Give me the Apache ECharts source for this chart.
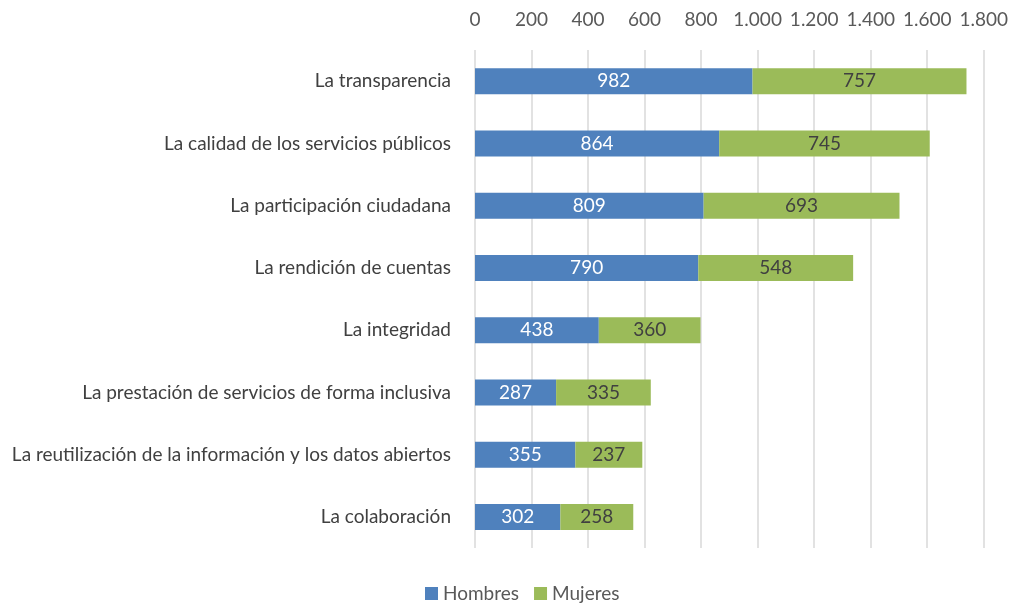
<!DOCTYPE html>
<html><head><meta charset="utf-8">
<script src="https://cdn.jsdelivr.net/npm/echarts@6/dist/echarts.min.js"></script>
<style>html,body{margin:0;padding:0;background:#fff}#c{width:1011px;height:603px}</style>
</head><body><div id="c"></div>
<script>
const categories = ["La transparencia","La calidad de los servicios públicos","La participación ciudadana","La rendición de cuentas","La integridad","La prestación de servicios de forma inclusiva","La reutilización de la información y los datos abiertos","La colaboración"];
const hombres = [982,864,809,790,438,287,355,302];
const mujeres = [757,745,693,548,360,335,237,258];
const seriesNames = ["Hombres","Mujeres"];
const FONT = "Lato";
const FS = 19;
const fmt = v => String(v).replace(/\B(?=(\d{3})+(?!\d))/g, ".");
const chart = echarts.init(document.getElementById('c'));
chart.setOption({
  animation:false,
  textStyle:{fontFamily:FONT},
  grid:{left:475,right:26,top:50,bottom:55,containLabel:false},
  legend:{bottom:-5,left:420,itemWidth:13,itemHeight:13,itemGap:15,itemTextGap:5,icon:'rect',
    textStyle:{fontFamily:FONT,fontSize:FS,color:'#595959'},data:seriesNames},
  xAxis:{type:'value',position:'top',min:0,max:1800,interval:200,
    axisLine:{show:false},axisTick:{show:false},
    splitLine:{lineStyle:{color:'#d9d9d9',width:1.5}},
    axisLabel:{formatter:fmt,fontFamily:FONT,fontSize:FS,color:'#595959',margin:21}},
  yAxis:{type:'category',inverse:true,data:categories,
    axisLine:{show:false},axisTick:{show:false},
    axisLabel:{fontFamily:FONT,fontSize:FS,color:'#404040',margin:24}},
  series:[
    {name:seriesNames[0],type:'bar',stack:'t',data:hombres,barWidth:26,
     itemStyle:{color:'#4F81BD'},
     label:{show:true,position:'inside',color:'#ffffff',fontFamily:FONT,fontSize:FS}},
    {name:seriesNames[1],type:'bar',stack:'t',data:mujeres,barWidth:26,
     itemStyle:{color:'#9BBB59'},
     label:{show:true,position:'inside',color:'#404040',fontFamily:FONT,fontSize:FS}}
  ]
});
</script></body></html>
